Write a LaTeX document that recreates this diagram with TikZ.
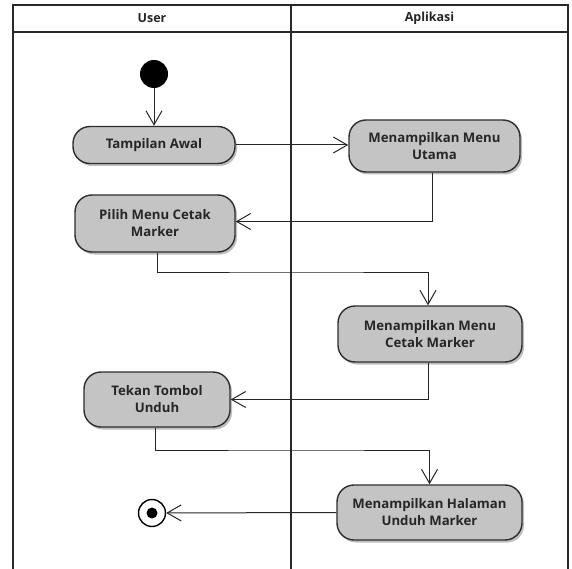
\documentclass[tikz,border=0pt]{standalone}
\usepackage{fontspec}
\setmainfont{Open Sans}
\usetikzlibrary{arrows.meta,shadows,calc}
\definecolor{actfill}{RGB}{196,196,196}
\definecolor{actline}{RGB}{45,45,45}
\definecolor{laneline}{RGB}{40,40,40}
\tikzset{
  activity/.style={draw=actline, line width=1.4pt, fill=actfill,
    rounded corners=17pt, align=center, inner sep=0pt,
    font=\fontsize{13.2}{17}\selectfont\bfseries, text=black!85,
    drop shadow={shadow xshift=2pt, shadow yshift=-2.5pt, opacity=0.25, fill=black}},
  flow/.style={draw=black!85, line width=1pt,
    -{Straight Barb[length=14pt,width=16pt,line width=1pt]}},
  lane/.style={draw=laneline, line width=1.8pt},
  lanetitle/.style={font=\fontsize{12.5}{14}\selectfont\bfseries, text=black!85}
}
\begin{document}
\begin{tikzpicture}[x=1pt,y=-1pt]
  \useasboundingbox (0,0) rectangle (572,569);

  % swimlanes
  \draw[lane] (13,569) -- (13,5) -- (568,5) -- (568,569);
  \draw[lane] (13,32) -- (568,32);
  \draw[lane] (291,5) -- (291,569);
  \node[lanetitle] (userlane) at (152,18.5) {User};
  \node[lanetitle] (applane) at (429.5,18.5) {Aplikasi};

  % start and end
  \node[circle, fill=black, minimum size=28pt, inner sep=0pt] (start) at (154,74) {};
  \node[circle, draw=black, line width=1.4pt, fill=white, minimum size=27pt, inner sep=0pt] (stop) at (152,513) {};
  \node[circle, fill=black, minimum size=11pt, inner sep=0pt] (stopdot) at (stop.center) {};

  % activities
  \node[activity, minimum width=162pt, minimum height=37pt] (awal) at (154,145) {Tampilan Awal};
  \node[activity, minimum width=171pt, minimum height=52pt] (utama) at (434.5,146) {Menampilkan Menu\\Utama};
  \node[activity, minimum width=160pt, minimum height=57pt] (pilih) at (155,223.5) {Pilih Menu Cetak\\Marker};
  \node[activity, minimum width=184pt, minimum height=56pt] (cetak) at (430,334) {Menampilkan Menu\\Cetak Marker};
  \node[activity, minimum width=146pt, minimum height=55pt] (tekan) at (157,399.5) {Tekan Tombol\\Unduh};
  \node[activity, minimum width=185pt, minimum height=55pt] (unduh) at (429.5,512.5) {Menampilkan Halaman\\Unduh Marker};

  % bend points
  \coordinate (bendA) at (300,272);
  \coordinate (bendB) at (300,450);

  % control flow
  \draw[flow] (start) -- (awal);
  \draw[flow] (awal.east) -- (utama.west |- awal.east);
  \draw[flow] ([xshift=-2pt]utama.south) |- ([yshift=2pt]pilih.east);
  \draw[flow] ([xshift=2pt]pilih.south) |- (bendA) -| ([xshift=-2pt]cetak.north);
  \draw[flow] ([xshift=-2pt]cetak.south) |- (tekan.east);
  \draw[flow] ([xshift=-2pt]tekan.south) |- (bendB) -| (unduh.north);
  \draw[flow] (unduh.west) -- (stop);
\end{tikzpicture}
\end{document}
